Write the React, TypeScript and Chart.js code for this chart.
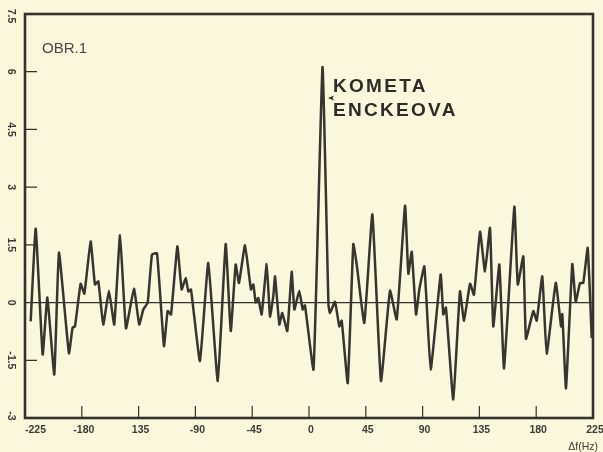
import React, { useEffect, useRef } from "react";
import { Chart, registerables } from "chart.js";

Chart.register(...registerables);

// Frequency offset (Hz) of each traced point
const HZ = [
  -220.5, -216.5, -211.0, -207.3, -201.8, -198.1, -190.2, -187.3, -185.4, -180.9,
  -178.0, -173.0, -169.6, -166.9, -163.0, -158.5, -154.3, -149.7, -145.0, -138.7,
  -134.5, -131.3, -127.8, -124.4, -120.4, -114.9, -112.0, -109.3, -104.3, -100.9,
  -97.7, -95.6, -93.5, -86.4, -79.8, -72.3, -66.0, -62.0, -58.1, -55.5,
  -50.7, -46.0, -44.1, -42.2, -40.2, -37.5, -33.5, -30.9, -28.3, -26.9,
  -23.5, -21.2, -17.2, -13.7, -11.6, -7.7, -5.0, -3.2, 3.6, 10.7,
  15.4, 16.6, 20.6, 24.0, 25.9, 30.7, 35.1, 37.8, 43.8, 50.2,
  57.0, 64.2, 69.5, 76.1, 78.7, 81.4, 84.8, 87.4, 91.4, 96.4,
  104.3, 106.4, 108.5, 114.3, 119.6, 122.8, 127.6, 130.7, 135.5, 139.4,
  143.4, 146.0, 150.8, 154.5, 162.7, 165.4, 169.8, 171.9, 177.7, 180.4,
  184.8, 188.3, 195.5, 199.7, 200.7, 203.6, 208.6, 211.3, 214.7, 217.3,
  220.8, 224.0,
];

// Signal amplitude at each point
const SIGNAL = [
  -0.49, 1.92, -1.35, 0.13, -1.87, 1.3, -1.32, -0.65, -0.62, 0.49,
  0.23, 1.59, 0.47, 0.55, -0.57, 0.31, -0.57, 1.75, -0.67, 0.36,
  -0.57, -0.18, 0.0, 1.25, 1.28, -1.13, -0.22, -0.31, 1.46, 0.34,
  0.64, 0.29, 0.34, -1.52, 1.03, -2.04, 1.52, -0.74, 0.99, 0.51,
  1.49, 0.34, 0.47, 0.0, 0.12, -0.31, 1.0, -0.36, 0.16, 0.68,
  -0.57, -0.27, -0.74, 0.8, -0.18, 0.31, -0.18, -0.07, -1.74, 6.12,
  -0.05, -0.27, 0.02, -0.62, -0.47, -2.09, 1.52, 0.99, -0.53, 2.29,
  -2.04, 0.31, -0.44, 2.52, 0.75, 1.32, -0.31, 0.34, 0.94, -1.74,
  0.73, -0.31, -0.13, -2.52, 0.29, -0.47, 0.49, 0.2, 1.84, 0.81,
  1.94, -0.62, 0.99, -1.71, 2.49, 0.47, 1.2, -0.94, -0.22, -0.47,
  0.68, -1.33, 0.51, -0.62, -0.3, -2.23, 1.0, 0.02, 0.51, 0.51,
  1.42, -0.92,
];

const X_TICKS = [-225, -180, -135, -90, -45, 0, 45, 90, 135, 180, 225];
const X_TICK_LABELS = ["-225", "-180", "135", "-90", "-45", "0", "45", "90", "135", "180", "225"];
const Y_TICKS = [-3, -1.5, 0, 1.5, 3, 4.5, 6, 7.5];
const Y_TICK_LABELS = ["-3", "-1.5", "0", "1.5", "3", "4.5", "6", "7.5"];

const X_TITLE = "\u0394f(Hz)";
const FIGURE_LABEL = "OBR.1";
const ANNOTATION = ["KOMETA", "ENCKEOVA"];
const SPIKE_HZ = 10.7;
const SPIKE_LABEL_Y = 5.6;

const PAPER = "#fbf7dc";
const INK = "#34322d";

const decorPlugin = {
  id: "decor",
  beforeDatasetsDraw(chart: any) {
    const { ctx, chartArea: a, scales } = chart;
    const y0 = scales.y.getPixelForValue(0);
    ctx.save();
    ctx.strokeStyle = INK;
    ctx.lineWidth = 1.3;
    ctx.beginPath();
    ctx.moveTo(a.left, y0);
    ctx.lineTo(a.right, y0);
    ctx.stroke();
    ctx.restore();
  },
  afterDatasetsDraw(chart: any) {
    const { ctx, chartArea: a, scales } = chart;
    const xs = scales.x;
    const ys = scales.y;
    ctx.save();
    // frame
    ctx.strokeStyle = INK;
    ctx.lineWidth = 2.6;
    ctx.strokeRect(a.left, a.top, a.right - a.left, a.bottom - a.top);
    // inner ticks
    ctx.lineWidth = 1.2;
    ctx.beginPath();
    X_TICKS.forEach((t) => {
      const px = xs.getPixelForValue(t);
      ctx.moveTo(px, a.bottom);
      ctx.lineTo(px, a.bottom - 12);
    });
    Y_TICKS.forEach((t) => {
      if (t === 0) return;
      const py = ys.getPixelForValue(t);
      ctx.moveTo(a.left, py);
      ctx.lineTo(a.left + 12, py);
    });
    ctx.stroke();

    // x tick labels
    ctx.fillStyle = "#3d3b36";
    ctx.font = "bold 10.5px 'Liberation Sans', Arial, sans-serif";
    ctx.textBaseline = "middle";
    X_TICKS.forEach((t, i) => {
      const px = xs.getPixelForValue(t);
      if (i === 0) {
        ctx.textAlign = "left";
        ctx.fillText(X_TICK_LABELS[i], px, a.bottom + 12);
      } else {
        ctx.textAlign = "center";
        ctx.fillText(X_TICK_LABELS[i], px + 2, a.bottom + 12);
      }
    });
    // x title
    ctx.font = "10.5px 'Liberation Sans', Arial, sans-serif";
    ctx.textAlign = "right";
    ctx.fillText(X_TITLE, a.right + 5, a.bottom + 29);

    // y tick labels, rotated
    ctx.font = "bold 10.5px 'Liberation Sans', Arial, sans-serif";
    Y_TICKS.forEach((t, i) => {
      let py = ys.getPixelForValue(t);
      if (i === Y_TICKS.length - 1) py += 2;
      if (i === 0) py -= 2;
      ctx.save();
      ctx.translate(a.left - 14, py);
      ctx.rotate(Math.PI / 2);
      ctx.textAlign = "center";
      ctx.textBaseline = "middle";
      ctx.fillText(Y_TICK_LABELS[i], 0, 0);
      ctx.restore();
    });

    // figure label
    ctx.fillStyle = "#4a4843";
    ctx.font = "15px 'Liberation Sans', Arial, sans-serif";
    ctx.textAlign = "left";
    ctx.textBaseline = "alphabetic";
    ctx.fillText(FIGURE_LABEL, a.left + 17, a.top + 39);

    // annotation
    const sx = xs.getPixelForValue(SPIKE_HZ);
    const sy = ys.getPixelForValue(SPIKE_LABEL_Y);
    ctx.fillStyle = "#2e2c28";
    ctx.font = "bold 19px 'Liberation Sans', Arial, sans-serif";
    (ctx as any).letterSpacing = "2.3px";
    ctx.fillText(ANNOTATION[0], sx + 10.5, sy + 5);
    ctx.fillText(ANNOTATION[1], sx + 10.5, sy + 29);
    (ctx as any).letterSpacing = "0px";
    // arrow head
    ctx.beginPath();
    ctx.moveTo(sx + 5.5, sy + 11);
    ctx.lineTo(sx + 11.5, sy + 8.5);
    ctx.lineTo(sx + 10, sy + 11);
    ctx.lineTo(sx + 11.5, sy + 13.5);
    ctx.closePath();
    ctx.fill();
    ctx.restore();
  },
};

export default function App() {
  const ref = useRef<HTMLCanvasElement | null>(null);

  useEffect(() => {
    if (!ref.current) return;
    const data = HZ.map((x, i) => ({ x, y: SIGNAL[i] }));
    const chart = new Chart(ref.current, {
      type: "line",
      data: {
        datasets: [
          {
            data,
            borderColor: "#37352f",
            borderWidth: 2.5,
            pointRadius: 0,
            tension: 0.12,
            fill: false,
          },
        ],
      },
      options: {
        responsive: false,
        animation: false,
        devicePixelRatio: 1,
        layout: { padding: { left: 25, right: 10, top: 14, bottom: 34 } },
        plugins: { legend: { display: false }, tooltip: { enabled: false } },
        scales: {
          x: { type: "linear", min: -225, max: 225, display: false },
          y: { type: "linear", min: -3, max: 7.5, display: false },
        },
      },
      plugins: [decorPlugin],
    });
    return () => chart.destroy();
  }, []);

  return (
    <div
      style={{
        position: "fixed",
        left: 0,
        top: 0,
        width: 603,
        height: 452,
        background: PAPER,
      }}
    >
      <canvas ref={ref} width={603} height={452} style={{ display: "block" }} />
    </div>
  );
}
